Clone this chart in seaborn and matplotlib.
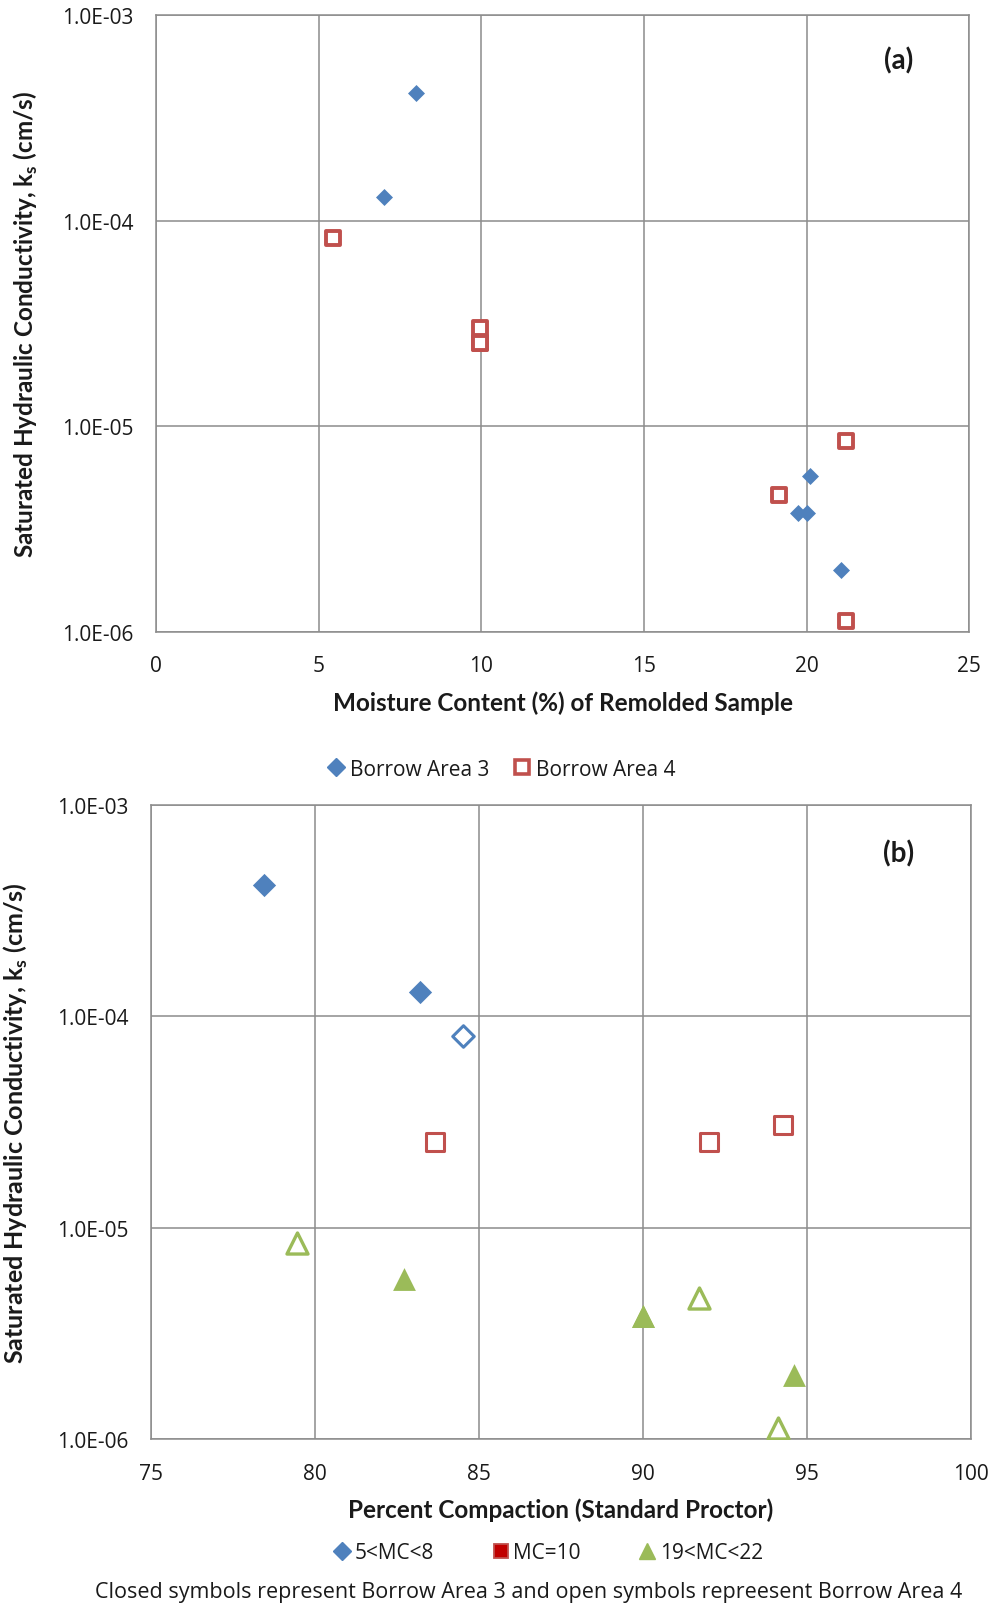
import matplotlib
matplotlib.use("Agg")
import matplotlib.pyplot as plt
from matplotlib.lines import Line2D
import seaborn as sns

# Panel (a): moisture content of remolded samples
mc_ba3 = [8.0, 7.0, 20.1, 19.75, 20.0, 21.05]
ks_ba3 = [4.2e-4, 1.3e-4, 5.7e-6, 3.8e-6, 3.8e-6, 2.0e-6]
mc_ba4 = [5.45, 9.95, 9.95, 9.95, 19.15, 21.2, 21.2]
ks_ba4 = [8.2e-5, 3.0e-5, 2.55e-5, 2.55e-5, 4.65e-6, 8.5e-6, 1.13e-6]

# Panel (b): percent compaction, grouped by moisture content
pc_lo_closed = [78.45, 83.2]
ks_lo_closed = [4.2e-4, 1.3e-4]
pc_lo_open = [84.5]
ks_lo_open = [8.1e-5]
pc_mid_open = [83.65, 92.0, 94.25]
ks_mid_open = [2.55e-5, 2.55e-5, 3.05e-5]
pc_hi_closed = [82.7, 90.0, 90.0, 94.6]
ks_hi_closed = [5.7e-6, 3.8e-6, 3.8e-6, 2.0e-6]
pc_hi_open = [79.45, 91.7, 94.1]
ks_hi_open = [8.5e-6, 4.65e-6, 1.13e-6]

y_ticks = [1e-6, 1e-5, 1e-4, 1e-3]
y_ticklabels = ["1.0E-06", "1.0E-05", "1.0E-04", "1.0E-03"]
x_ticks_a = [0, 5, 10, 15, 20, 25]
x_ticks_b = [75, 80, 85, 90, 95, 100]

BLUE = "#4F81BD"
RED = "#C0504D"
GREEN = "#9BBB59"
GRID = "#8C8C8C"
TXT = "#1a1a1a"
BOLD_FONT = ["Lato", "DejaVu Sans"]

sns.set_style("white")
plt.rcParams["font.family"] = ["Open Sans", "DejaVu Sans"]
plt.rcParams["mathtext.fontset"] = "custom"
plt.rcParams["mathtext.rm"] = "Lato"
plt.rcParams["mathtext.bf"] = "Lato:bold"

fig = plt.figure(figsize=(9.95, 16.06), dpi=100)
ax_a = fig.add_axes([0.1568, 0.606, 0.8172, 0.384])
ax_b = fig.add_axes([0.1518, 0.1034, 0.8242, 0.3946])

ylabel = r"Saturated Hydraulic Conductivity, k$_\mathbf{s}$ (cm/s)"


def style_axes(ax, xlim, xticks, tick_size, label_size, ylab_x):
    ax.set_yscale("log")
    ax.set_ylim(1e-6, 1e-3)
    ax.set_xlim(*xlim)
    ax.set_xticks(xticks)
    ax.set_xticklabels([str(t) for t in xticks])
    ax.set_yticks(y_ticks)
    ax.set_yticklabels(y_ticklabels)
    ax.minorticks_off()
    ax.grid(True, color=GRID, linewidth=1.1)
    ax.set_axisbelow(True)
    for sp in ax.spines.values():
        sp.set_color(GRID)
        sp.set_linewidth(1.1)
    ax.tick_params(axis="both", length=0, labelsize=tick_size, colors=TXT)
    ax.tick_params(axis="x", pad=17)
    ax.tick_params(axis="y", pad=16)
    ax.set_ylabel(ylabel, fontsize=label_size, fontweight="bold",
                  color=TXT, family=BOLD_FONT)
    ax.yaxis.set_label_coords(ylab_x, 0.5)


# ---- panel (a)
sns.scatterplot(x=mc_ba3, y=ks_ba3, ax=ax_a, marker="D", s=75, color=BLUE,
                linewidth=0, zorder=3)
sns.scatterplot(x=mc_ba4, y=ks_ba4, ax=ax_a, marker="s", s=115, color=RED,
                facecolor="white", edgecolor=RED, linewidth=2.8, zorder=3)
style_axes(ax_a, (0, 25), x_ticks_a, 15, 17.5, -0.143)
ax_a.set_xlabel("Moisture Content (%) of Remolded Sample", fontsize=17.5,
                fontweight="bold", color=TXT, family=BOLD_FONT)
ax_a.xaxis.set_label_coords(0.5, -0.095)
ax_a.text(0.913, 0.927, "(a)", transform=ax_a.transAxes, fontsize=20,
          fontweight="bold", ha="center", va="center", color=TXT,
          family=BOLD_FONT)

handles_a = [
    Line2D([], [], linestyle="none", marker="D", markersize=9.5,
           markerfacecolor=BLUE, markeredgecolor=BLUE),
    Line2D([], [], linestyle="none", marker="s", markersize=9.5,
           markerfacecolor="white", markeredgecolor=RED, markeredgewidth=2.6),
]
fig.legend(handles_a, ["Borrow Area 3", "Borrow Area 4"], loc="center",
           bbox_to_anchor=(0.504, 0.5205), ncol=2, frameon=False,
           fontsize=15, handletextpad=0.25, columnspacing=1.2,
           handlelength=0.8, labelcolor=TXT)

# ---- panel (b)
sns.scatterplot(x=pc_lo_closed, y=ks_lo_closed, ax=ax_b, marker="D", s=140,
                color=BLUE, linewidth=0, zorder=3)
sns.scatterplot(x=pc_lo_open, y=ks_lo_open, ax=ax_b, marker="D", s=120,
                color=BLUE, facecolor="white", edgecolor=BLUE, linewidth=2.2,
                zorder=3)
sns.scatterplot(x=pc_mid_open, y=ks_mid_open, ax=ax_b, marker="s", s=150,
                color=RED, facecolor="white", edgecolor=RED, linewidth=2.2,
                zorder=3)
sns.scatterplot(x=pc_hi_closed, y=ks_hi_closed, ax=ax_b, marker="^", s=270,
                color=GREEN, linewidth=0, zorder=3)
sns.scatterplot(x=pc_hi_open, y=ks_hi_open, ax=ax_b, marker="^", s=230,
                color=GREEN, facecolor="white", edgecolor=GREEN, linewidth=2.4,
                zorder=3)
style_axes(ax_b, (75, 100), x_ticks_b, 15, 18, -0.1476)
ax_b.set_xlabel("Percent Compaction (Standard Proctor)", fontsize=17.5,
                fontweight="bold", color=TXT, family=BOLD_FONT)
ax_b.xaxis.set_label_coords(0.5, -0.093)
ax_b.text(0.911, 0.924, "(b)", transform=ax_b.transAxes, fontsize=20,
          fontweight="bold", ha="center", va="center", color=TXT,
          family=BOLD_FONT)

handles_b = [
    Line2D([], [], linestyle="none", marker="D", markersize=9.5,
           markerfacecolor=BLUE, markeredgecolor=BLUE),
    Line2D([], [], linestyle="none", marker="s", markersize=10.5,
           markerfacecolor="#C00000", markeredgecolor=RED, markeredgewidth=1.3),
    Line2D([], [], linestyle="none", marker="^", markersize=12,
           markerfacecolor=GREEN, markeredgecolor=GREEN),
]
fig.legend(handles_b, ["5<MC<8", "MC=10", "19<MC<22"], loc="center",
           bbox_to_anchor=(0.551, 0.0327), ncol=3, frameon=False,
           fontsize=15, handletextpad=0.2, columnspacing=2.8,
           handlelength=0.8, labelcolor=TXT)

fig.text(0.531, 0.0085,
         "Closed symbols represent Borrow Area 3 and open symbols repreesent Borrow Area 4",
         ha="center", va="center", fontsize=15.5, color=TXT)

fig.savefig("out.png", dpi=100, facecolor="white")
